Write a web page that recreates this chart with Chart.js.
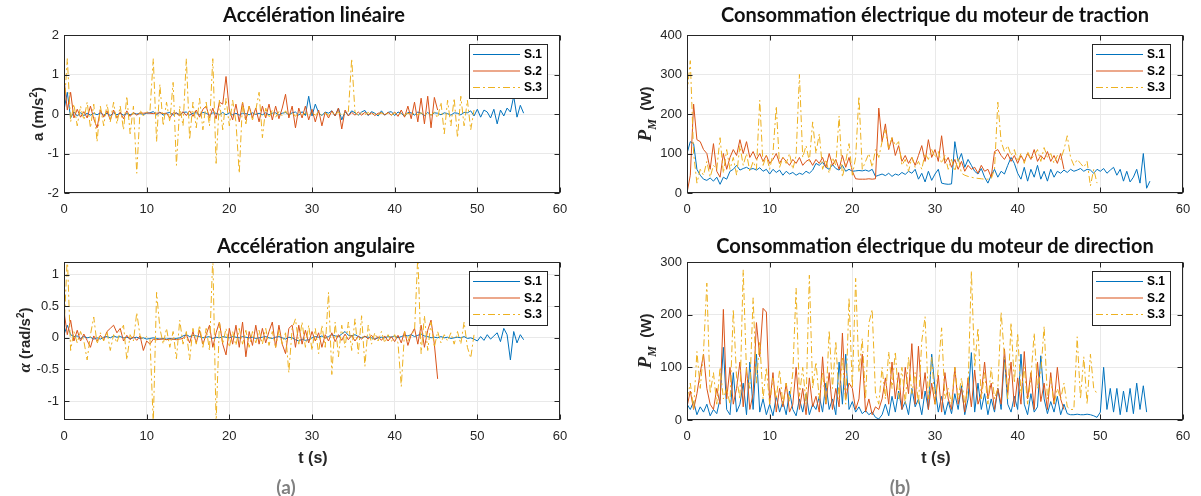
<!DOCTYPE html>
<html>
<head>
<meta charset="utf-8">
<script src="https://cdn.jsdelivr.net/npm/chart.js@4.4.1/dist/chart.umd.min.js"></script>
<style>
  body { margin: 0; background: #fff; }
  #fig { position: relative; width: 1201px; height: 496px; background: #fff; overflow: hidden; }
  #fig canvas { position: absolute; }
  .ttl { position: absolute; transform: translateX(-50%); white-space: nowrap;
         font-family: Lato, 'Open Sans', sans-serif; font-weight: bold; font-size: 20px; color: #111; line-height: 24px; }
  .ylab { position: absolute; transform: translate(-50%, -50%) rotate(-90deg); white-space: nowrap;
          font-family: 'Liberation Sans', Arial, sans-serif; font-weight: bold; font-size: 15px; color: #262626; }
  .xlab { position: absolute; transform: translate(-50%, -50%); white-space: nowrap;
          font-family: 'Liberation Sans', Arial, sans-serif; font-weight: bold; font-size: 16px; color: #262626; }
  .pan { position: absolute; transform: translate(-50%, -50%); font-family: Lato, sans-serif;
         font-weight: bold; font-size: 19px; color: #808080; }
  .it { font-family: 'Liberation Serif', serif; font-style: italic; font-weight: bold; font-size: 19px; }
  sup { font-size: 10px; }
  sub { font-size: 12px; }
</style>
</head>
<body>
<div id="fig">
  <canvas id="accLin" width="600" height="230" style="left:0;top:0"></canvas>
  <canvas id="pTrac" width="601" height="230" style="left:600px;top:0"></canvas>
  <canvas id="accAng" width="600" height="230" style="left:0;top:230px"></canvas>
  <canvas id="pDir" width="601" height="230" style="left:600px;top:230px"></canvas>

  <div class="ttl" style="left:314px;top:2px">Accélération linéaire</div>
  <div class="ttl" style="left:935px;top:2px">Consommation électrique du moteur de traction</div>
  <div class="ttl" style="left:316px;top:233px">Accélération angulaire</div>
  <div class="ttl" style="left:935px;top:233px">Consommation électrique du moteur de direction</div>

  <div class="ylab" style="left:37px;top:114px">a (m/s<sup>2</sup>)</div>
  <div class="ylab" style="left:647px;top:114px"><span class="it">P<sub>M</sub></span>&nbsp; (W)</div>
  <div class="ylab" style="left:25px;top:340px"><span class="it" style="font-size:17px">α</span> (rad/s<sup>2</sup>)</div>
  <div class="ylab" style="left:647px;top:341px"><span class="it">P<sub>M</sub></span>&nbsp; (W)</div>

  <div class="xlab" style="left:313px;top:458px">t (s)</div>
  <div class="xlab" style="left:936px;top:458px">t (s)</div>
  <div class="pan" style="left:286px;top:486px">(a)</div>
  <div class="pan" style="left:900px;top:486px">(b)</div>
</div>

<script>
// sampling period of the logged signals (s)
var dt = 0.4;
var seriesLabels = ['S.1', 'S.2', 'S.3'];

// tick values
var timeTicks = [0, 10, 20, 30, 40, 50, 60];
var accLinTicks = [-2, -1, 0, 1, 2];
var pTracTicks = [0, 100, 200, 300, 400];
var accAngTicks = [-1, -0.5, 0, 0.5, 1];
var pDirTicks = [0, 100, 200, 300];

// linear acceleration (m/s^2)
var accLinS1 = [
  0.1, 0.55, -0.1, 0.05, -0.05, 0.03, -0.04, 0.02, -0.03, 0.02,
  -0.02, 0.03, -0.03, 0.02, -0.04, 0.03, -0.02, 0.02, -0.03, 0.01,
  -0.02, 0.02, 0, 0.01, -0.01, 0.02, 0.03, 0.06, -0.02, 0.05,
  -0.03, 0.02, 0.04, -0.03, 0.03, -0.02, 0.04, 0.05, -0.03, 0.02,
  0.03, -0.02, 0.04, 0.02, -0.03, 0.03, 0.02, -0.02, 0.04, -0.02,
  0.03, -0.02, 0.02, -0.03, 0.02, 0.01, -0.02, 0.03, -0.01, 0.02,
  -0.02, 0.03, -0.02, 0.02, 0.03, -0.03, 0.02, 0.04, -0.02, 0.03,
  0.05, -0.03, 0.06, -0.04, 0.45, -0.05, 0.25, 0.03, -0.04, 0.05,
  0.02, 0.08, -0.05, 0.15, -0.15, 0.06, -0.04, 0.08, 0.03, -0.03,
  0.05, 0.09, -0.04, 0.06, 0.02, -0.05, 0.08, -0.03, 0.04, 0.06,
  -0.04, 0.05, 0.02, -0.06, 0.04, 0.03, -0.03, 0.05, 0.02, -0.04,
  0.04, -0.03, 0.03, 0.02, -0.02, 0.03, 0.01, -0.03, 0.03, 0.02,
  -0.02, 0.04, 0.03, 0.08, -0.05, 0.12, -0.08, 0.1, 0.05, -0.1,
  0.12, -0.25, 0.1, -0.05, 0.15, 0.05, 0.45, -0.08, 0.22, 0.02
];
var accLinS2 = [
  0.9, 0.1, 0.55, -0.1, 0.12, -0.08, 0.06, -0.1, 0.2, -0.12,
  -0.35, 0.1, -0.08, 0.08, -0.15, 0.1, -0.1, 0.05, -0.12, 0.08,
  -0.06, 0.04, -0.03, 0.03, 0.02, 0.03, 0.02, 0.01, 0.02, 0.03,
  0.01, 0.02, -0.1, 0.03, 0.02, -0.05, 0.06, -0.04, 0.08, -0.06,
  0.1, -0.08, 0.12, 0.2, -0.1, 0.15, -0.12, 0.3, 0.25, 0.95,
  0.1, -0.15, 0.25, -0.2, 0.3, -0.15, 0.2, -0.1, 0.15, -0.2,
  0.2, -0.1, 0.25, -0.15, 0.2, -0.12, 0.15, 0.5, -0.1, 0.2,
  -0.35, 0.15, -0.1, 0.2, -0.15, 0.12, -0.2, 0.1, -0.3, 0.05,
  -0.1, 0.08, -0.05, 0.15, -0.38, 0.1, -0.05, 0.04, -0.03, 0.05,
  -0.03, 0.04, -0.02, 0.03, -0.04, 0.02, 0.03, -0.02, 0.04, -0.03,
  0.05, -0.06, 0.1, -0.08, 0.2, -0.12, 0.3, -0.2, 0.4, -0.25,
  0.45, -0.35, 0.42, 0.1
];
var accLinS3 = [
  0.1, 1.4, -0.2, 0.25, -0.3, 0.2, -0.15, 0.3, -0.35, 0.25,
  -0.7, 0.2, -0.3, 0.25, -0.2, 0.3, -0.25, 0.2, -0.4, 0.45,
  -0.5, 0.2, -1.5, 0.1, -0.05, 0.05, 0.08, 1.4, -0.7, 0.75,
  -0.3, 0.3, -0.2, 0.8, -1.3, 0.2, -0.3, 1.4, -0.65, 0.3,
  -0.35, 0.4, -0.4, 0.3, -0.3, 1.4, -1.25, 0.35, -0.4, 0.4,
  -0.3, 0.35, -0.2, -1.5, 0.3, -0.25, 0.2, -0.15, 0.1, 0.55,
  -0.6, 0.15, -0.1, 0.1, -0.08, 0.06, -0.05, 0.08, -0.05, 0.04,
  -0.06, 0.05, -0.04, 0.03, -0.05, 0.04, -0.03, 0.05, -0.04, 0.03,
  -0.03, 0.04, -0.02, 0.05, -0.04, 0.03, 0.06, 1.4, 0.05, -0.03,
  0.03, -0.02, 0.04, -0.03, 0.02, -0.02, 0.03, -0.02, 0.02, -0.03,
  0.03, -0.02, 0.02, -0.03, 0.02, -0.02, 0.03, -0.02, 0.03, -0.02,
  0.02, -0.03, 0.05, -0.1, 0.3, -0.5, 0.35, -0.3, 0.4, -0.6,
  0.45, -0.3, 0.35, -0.4, 0.1
];

// traction motor power (W)
var pTracS1 = [
  100, 130, 125, 60, 45, 35, 32, 38, 30, 40,
  22, 40, 35, 55, 60, 70, 58, 62, 65, 60,
  62, 58, 64, 55, 60, 48, 60, 52, 58, 45,
  55, 48, 52, 45, 50, 47, 55, 50, 58, 75,
  70, 78, 65, 60, 72, 62, 58, 70, 55, 60,
  55, 56, 57, 56, 58, 55, 60, 42, 45, 48,
  44, 50, 42, 48, 45, 52, 47, 55, 50, 60,
  35, 50, 28, 55, 32, 48, 60, 25, 23, 22,
  23, 130, 80, 100, 65, 85, 70, 55, 48, 62,
  40, 25, 45, 60, 40, 55, 48, 70, 90, 75,
  50, 35, 65, 30, 60, 40, 70, 35, 55, 30,
  60, 40, 55, 50, 58, 52, 60, 55, 58, 62,
  55, 60, 58, 50, 60, 55, 62, 50, 58, 65,
  45, 60, 30, 55, 28, 40, 60, 25, 100, 12,
  30
];
var pTracS2 = [
  0, 45, 225, 135, 130, 110, 100, 60, 125, 55,
  40, 100, 60, 90, 110, 95, 135, 100, 130, 90,
  105, 85, 100, 80, 95, 75, 85, 100, 75, 90,
  80, 70, 85, 75, 90, 70, 80, 85, 70, 85,
  75, 90, 65, 100, 70, 85, 60, 95, 65, 90,
  55, 36, 35, 35, 35, 36, 35, 36, 215, 130,
  175, 110, 140, 95, 120, 80, 95, 75, 90, 70,
  95, 120, 80, 135, 90, 110, 80, 145, 75, 90,
  65, 85, 60, 80, 55, 70, 60, 65, 50, 70,
  55, 60, 40, 105, 110, 95, 85, 100, 80, 95,
  75, 95, 80, 100, 85, 110, 80, 95, 85, 105,
  80, 95, 75, 100, 60
];
var pTracS3 = [
  250, 335, 100, 25, 60, 45, 80, 40, 70, 60,
  140, 50, 110, 60, 90, 45, 120, 70, 100, 55,
  80, 60, 235, 70, 95, 60, 100, 220, 65, 90,
  75, 100, 60, 95, 300, 90, 120, 80, 180, 100,
  150, 60, 85, 50, 90, 70, 195, 40, 80, 125,
  45, 90, 245, 60, 80, 100, 65, 110, 90, 130,
  160, 110, 140, 120, 130, 70, 85, 55, 90, 65,
  80, 60, 100, 85, 110, 90, 105, 75, 95, 60,
  85, 55, 90, 50, 45, 42, 40, 38, 37, 36,
  35, 35, 36, 60, 230, 130, 105, 120, 95, 110,
  80, 100, 75, 105, 85, 95, 110, 80, 115, 90,
  100, 75, 95, 85, 110, 145, 90, 70, 85, 75,
  65, 80, 18, 60, 25
];

// angular acceleration (rad/s^2)
var accAngS1 = [
  0.05, 0.2, 0.05, 0.02, 0.03, -0.01, 0.02, 0, 0.01, -0.02,
  0, -0.02, 0.01, 0.02, 0, 0.03, 0.01, 0.02, 0, 0.01,
  -0.01, 0, 0.01, -0.01, 0, -0.02, -0.01, 0, -0.01, -0.02,
  -0.01, -0.02, -0.01, -0.02, -0.01, 0, 0.03, 0.05, 0.02, 0.04,
  0.03, 0.02, 0, 0.01, 0.02, -0.01, 0.01, 0, 0.02, 0.01,
  0, 0.02, 0.01, 0, 0.02, 0.01, 0, 0.01, -0.01, 0,
  0.01, 0.02, 0, -0.01, 0.01, 0.02, 0, -0.02, 0.01, 0,
  -0.03, -0.05, -0.02, -0.04, -0.03, 0, 0.02, 0.01, 0.03, 0,
  0.02, 0.05, 0.03, 0.02, 0.06, 0.1, 0.04, 0.03, 0.05, 0.02,
  0, 0.02, 0.01, 0, -0.02, 0, 0.01, 0, 0.02, 0.01,
  0.03, 0, 0.02, 0.04, 0.03, 0.05, 0.02, 0.04, 0.06, 0.03,
  0.02, 0, 0.01, 0, 0.02, 0, 0.01, -0.01, 0, 0.01,
  0, 0.02, -0.01, 0, -0.02, -0.05, 0.02, -0.04, 0.05, -0.02,
  0.03, 0.08, -0.06, 0.15, 0.05, -0.35, 0.1, -0.08, 0.05, -0.03
];
var accAngS2 = [
  0.42, 0.05, 0.28, -0.05, 0.12, -0.05, 0.06, -0.04, -0.15, 0.03,
  -0.05, 0.04, -0.03, 0.1, 0.15, 0.2, 0.08, 0.15, -0.05, 0.04,
  -0.03, 0.02, -0.04, 0.03, -0.2, -0.05, -0.1, -0.02, -0.03, -0.02,
  -0.02, -0.03, -0.02, -0.02, -0.03, -0.02, -0.01, 0.05, -0.08, 0.1,
  -0.08, 0.12, -0.1, 0.05, 0.2, -0.15, 0.08, 0.25, -0.1, -0.27,
  0.15, -0.1, 0.2, -0.15, 0.25, -0.3, 0.1, -0.12, 0.2, -0.1,
  0.15, -0.08, 0.1, 0.25, -0.15, 0.2, -0.1, -0.25, 0.15, 0.2,
  -0.15, 0.2, -0.1, 0.12, -0.08, 0.1, -0.05, 0.08, -0.15, 0.05,
  -0.05, 0.08, -0.06, 0.05, -0.04, 0.06, -0.03, 0.04, -0.05, 0.03,
  -0.02, 0.03, -0.02, 0.04, -0.03, 0.02, -0.04, 0.03, -0.05, 0.02,
  -0.06, 0.04, -0.08, 0.1, -0.12, 0.05, 0.15, -0.1, 0.2, -0.15,
  0.12, 0.28, -0.1, -0.65
];
var accAngS3 = [
  0.1, 1.3, -0.2, 0.1, -0.08, 0.1, -0.05, -0.35, 0.05, 0.33,
  -0.1, 0.08, -0.05, 0.1, -0.2, 0.05, -0.08, 0.1, 0.2, -0.35,
  0.05, -0.05, 0.4, 0.03, -0.02, 0.02, -0.02, -1.35, 0.72, 0.15,
  -0.1, 0.15, -0.15, 0.1, -0.33, 0.28, -0.1, 0.1, -0.35, 0.15,
  -0.1, 0.2, -0.15, 0.15, -0.2, 1.3, -1.35, 0.25, -0.1, 0.15,
  -0.15, 0.1, -0.12, 0.15, -0.1, 0.12, -0.15, 0.1, -0.08, 0.12,
  -0.1, 0.15, -0.12, 0.1, -0.15, 0.12, -0.1, 0.08, -0.55, 0.15,
  0.3, -0.1, 0.25, -0.15, 0.2, -0.2, 0.15, -0.25, 0.2, -0.15,
  0.72, -0.58, 0.25, -0.3, 0.2, -0.15, 0.25, -0.2, 0.3, -0.25,
  0.35, -0.45, 0.2, -0.1, 0.08, -0.05, 0.1, -0.08, 0.05, -0.06,
  0.05, -0.08, -0.77, 0.1, -0.05, 0.08, 0.1, 1.3, -0.25, 0.35,
  -0.2, 0.25, -0.15, 0.1, -0.08, 0.05, -0.05, 0.08, -0.1, 0.1,
  -0.1, 0.25, -0.15, -0.32, 0.05
];

// steering motor power (W)
var pDirS1 = [
  30, 20, 35, 10, 25, 15, 30, 8, 20, 12,
  40, 138, 20, 10, 90, 15, 30, 70, 10, 110,
  20, 125, 15, 40, 10, 30, 8, 45, 15, 35,
  10, 55, 20, 8, 40, 15, 50, 10, 30, 20,
  45, 15, 70, 20, 40, 10, 110, 30, 125, 20,
  35, 15, 25, 12, 18, 10, 15, 5, 2, 10,
  30, 8, 45, 15, 55, 20, 35, 10, 60, 25,
  40, 10, 55, 20, 125, 60, 15, 45, 10, 35,
  12, 50, 20, 65, 10, 40, 128, 15, 70, 20,
  50, 10, 40, 15, 60, 20, 120, 30, 15, 45,
  20, 125, 30, 10, 50, 15, 25, 122, 40, 12,
  35, 15, 45, 10, 30, 12, 10, 10, 11, 10,
  10, 11, 10, 8, 5, 15, 100, 20, 60, 15,
  60, 10, 55, 15, 60, 12, 70, 20, 65, 15
];
var pDirS2 = [
  25, 55, 20, 50, 90, 125, 60, 30, 20, 60,
  30, 210, 40, 100, 30, 60, 110, 25, 100, 20,
  50, 185, 120, 212, 205, 30, 90, 15, 60, 25,
  70, 15, 30, 100, 20, 60, 10, 80, 25, 45,
  15, 120, 30, 90, 20, 60, 25, 165, 40, 70,
  60, 20, 40, 125, 15, 40, 10, 25, 20, 40,
  80, 30, 110, 40, 90, 20, 100, 50, 145, 30,
  140, 40, 90, 20, 70, 30, 85, 15, 90, 40,
  20, 100, 30, 60, 15, 80, 25, 95, 30, 50,
  110, 40, 70, 20, 60, 30, 135, 50, 110, 25,
  80, 30, 130, 40, 90, 20, 110, 35, 70, 20,
  90, 30, 100, 40, 20
];
var pDirS3 = [
  40, 70, 20, 130, 60, 130, 260, 50, 90, 30,
  100, 40, 60, 30, 210, 80, 40, 285, 90, 60,
  232, 70, 150, 40, 100, 30, 80, 40, 95, 30,
  70, 35, 90, 250, 45, 100, 30, 275, 60, 110,
  40, 90, 30, 170, 60, 150, 40, 120, 30, 232,
  60, 269, 90, 155, 40, 184, 210, 50, 30, 100,
  40, 130, 60, 130, 40, 100, 30, 120, 50, 90,
  30, 150, 196, 40, 120, 30, 100, 175, 40, 60,
  30, 100, 40, 80, 30, 60, 283, 100, 175, 40,
  90, 30, 100, 40, 60, 205, 120, 40, 185, 70,
  165, 50, 100, 30, 80, 165, 60, 90, 178, 40,
  80, 30, 60, 40, 70, 25, 20, 20, 158, 40,
  120, 30, 125, 60, 50
];

var seriesColors = ['#0072BD', '#D95319', '#EDB120'];
var seriesDash = [[], [], [7, 3, 2, 3]];

function toPoints(values) {
  return values.map(function (v, i) { return { x: Math.round(i * dt * 100) / 100, y: v }; });
}

// MATLAB-like box with inward ticks, and legend drawn inside the axes
var matlabBox = {
  id: 'matlabBox',
  afterDraw: function (chart) {
    var ctx = chart.ctx, a = chart.chartArea;
    var xs = chart.scales.x, ys = chart.scales.y;
    var L = Math.round(a.left) + 0.5, R = Math.round(a.right) - 0.5;
    var T = Math.round(a.top) + 0.5, B = Math.round(a.bottom) - 0.5;
    ctx.save();
    ctx.strokeStyle = '#262626';
    ctx.lineWidth = 1;
    ctx.strokeRect(L, T, R - L, B - T);
    ctx.beginPath();
    xs.ticks.forEach(function (t) {
      var px = Math.round(xs.getPixelForValue(t.value)) + 0.5;
      ctx.moveTo(px, B); ctx.lineTo(px, B - 5);
      ctx.moveTo(px, T); ctx.lineTo(px, T + 5);
    });
    ys.ticks.forEach(function (t) {
      var py = Math.round(ys.getPixelForValue(t.value)) + 0.5;
      ctx.moveTo(L, py); ctx.lineTo(L + 5, py);
      ctx.moveTo(R, py); ctx.lineTo(R - 5, py);
    });
    ctx.stroke();

    // legend
    var w = 78, h = 54;
    var left = Math.round(a.right) - 13 - w, top = Math.round(a.top) + 9;
    ctx.fillStyle = '#fff';
    ctx.fillRect(left, top, w, h);
    ctx.strokeStyle = '#262626';
    ctx.strokeRect(left + 0.5, top + 0.5, w, h);
    ctx.font = "bold 12px 'Liberation Sans', Arial, sans-serif";
    ctx.textBaseline = 'middle';
    ctx.textAlign = 'left';
    seriesLabels.forEach(function (lab, i) {
      var yy = top + 10.5 + i * 16.5;
      ctx.strokeStyle = seriesColors[i];
      ctx.lineWidth = 1.2;
      ctx.setLineDash(seriesDash[i]);
      ctx.beginPath();
      ctx.moveTo(left + 4, yy); ctx.lineTo(left + 51, yy);
      ctx.stroke();
      ctx.setLineDash([]);
      ctx.fillStyle = '#000';
      ctx.fillText(lab, left + 55, yy + 0.5);
    });
    ctx.restore();
  }
};

Chart.defaults.font.family = "'Liberation Sans', Arial, sans-serif";
Chart.defaults.font.size = 13;
Chart.defaults.color = '#262626';

function generate_plot(canvas_id, values, yMin, yMax, yTicks, yWidth, padTop, padRight, xHeight) {
  var datasets = values.map(function (vals, i) {
    return {
      label: seriesLabels[i],
      data: toPoints(vals),
      borderColor: seriesColors[i],
      borderWidth: 1,
      borderDash: seriesDash[i],
      pointRadius: 0,
      tension: 0,
      fill: false,
      order: 3 - i
    };
  });

  var options = {
    responsive: false,
    animation: false,
    devicePixelRatio: 1,
    layout: { padding: { top: padTop, right: padRight, left: 0, bottom: 0 } },
    plugins: { legend: { display: false }, tooltip: { enabled: false }, title: { display: false } },
    scales: {
      x: {
        type: 'linear', min: 0, max: 60,
        afterBuildTicks: function (s) { s.ticks = timeTicks.map(function (v) { return { value: v }; }); },
        ticks: { padding: 9, maxRotation: 0, callback: function (v) { return String(v); } },
        grid: { color: '#e9e9e9', drawTicks: false },
        border: { display: false },
        afterFit: function (s) { s.height = xHeight; }
      },
      y: {
        type: 'linear', min: yMin, max: yMax,
        afterBuildTicks: function (s) { s.ticks = yTicks.map(function (v) { return { value: v }; }); },
        ticks: { padding: 5, callback: function (v) { return String(v); } },
        grid: { color: '#e9e9e9', drawTicks: false },
        border: { display: false },
        afterFit: function (s) { s.width = yWidth; }
      }
    }
  };

  var ctx = document.getElementById(canvas_id).getContext('2d');
  return new Chart(ctx, {
    type: 'line',
    data: { datasets: datasets },
    options: options,
    plugins: [matlabBox]
  });
}

generate_plot('accLin', [accLinS1, accLinS2, accLinS3], -2, 2, accLinTicks, 64, 35, 40, 37);
generate_plot('pTrac', [pTracS1, pTracS2, pTracS3], 0, 400, pTracTicks, 87, 35, 18, 37);
generate_plot('accAng', [accAngS1, accAngS2, accAngS3], -1.3, 1.2, accAngTicks, 64, 32, 40, 40);
generate_plot('pDir', [pDirS1, pDirS2, pDirS3], 0, 300, pDirTicks, 87, 32, 18, 40);
</script>
</body>
</html>
